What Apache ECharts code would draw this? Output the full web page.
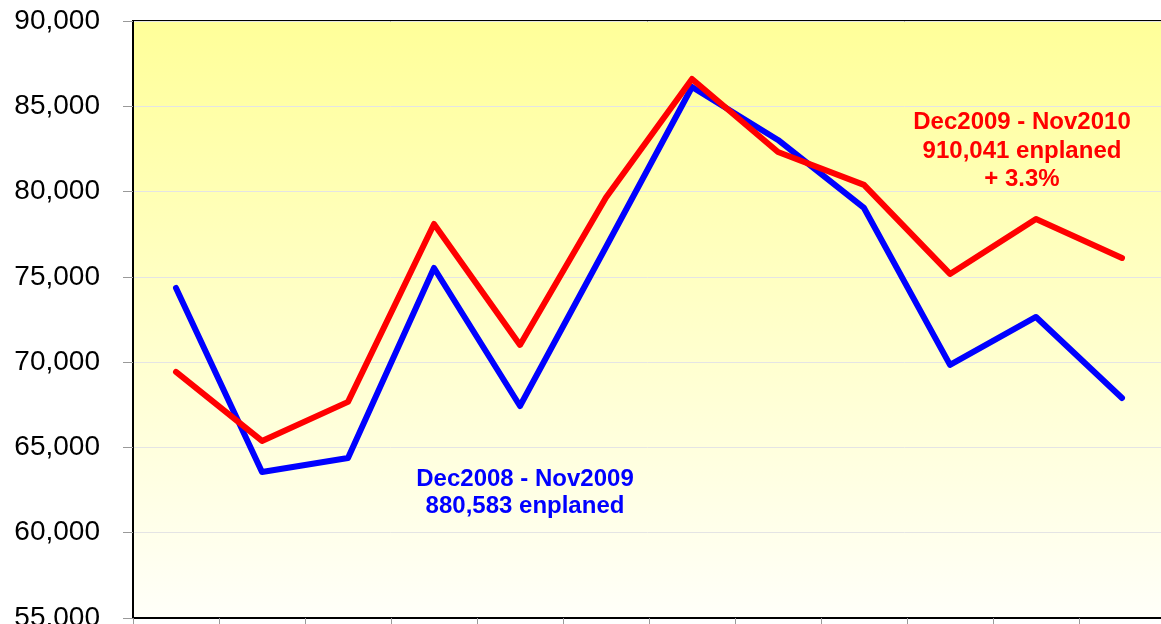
<!DOCTYPE html>
<html>
<head>
<meta charset="utf-8">
<script src="https://cdn.jsdelivr.net/npm/echarts@6/dist/echarts.min.js"></script>
<style>html,body{margin:0;padding:0;background:#fff;}#c{width:1161px;height:624px;}</style>
</head>
<body>
<div id="c"></div>
<script>
var categories = ['Dec','Jan','Feb','Mar','Apr','May','Jun','Jul','Aug','Sep','Oct','Nov'];
var series2009 = [74350, 63560, 64385, 75520, 67430, 76750, 86130, 83025, 79040, 69840, 72650, 67900];
var series2010 = [69430, 65380, 67670, 78100, 71010, 79650, 86600, 82320, 80390, 75170, 78390, 76110];
var yTicks = {min: 55000, max: 90000, interval: 5000};
var label2009 = ['Dec2008 - Nov2009', '880,583 enplaned'];
var label2010 = ['Dec2009 - Nov2010', '910,041 enplaned', '+ 3.3%'];

var chart = echarts.init(document.getElementById('c'));
chart.setOption({
  animation: false,
  grid: {
    left: 133, top: 21, width: 1032, height: 597,
    containLabel: false,
    outerBoundsMode: 'none',
    show: true,
    borderColor: '#000', borderWidth: 2,
    backgroundColor: new echarts.graphic.LinearGradient(0, 0, 0, 1, [
      {offset: 0, color: '#FFFF99'},
      {offset: 1, color: '#FFFFF9'}
    ])
  },
  xAxis: {
    type: 'category',
    data: categories,
    boundaryGap: true,
    axisLine: {lineStyle: {color: '#000', width: 2}},
    axisTick: {show: true, length: 6, lineStyle: {color: '#999'}},
    axisLabel: {show: false},
    splitLine: {show: false}
  },
  yAxis: {
    type: 'value',
    min: yTicks.min, max: yTicks.max, interval: yTicks.interval,
    axisLine: {show: true, lineStyle: {color: '#000', width: 2}},
    axisTick: {show: true, length: 10, lineStyle: {color: '#999'}},
    axisLabel: {
      margin: 33,
      fontFamily: 'Liberation Sans, Arial, sans-serif',
      fontSize: 28, color: '#000',
      formatter: function (v) { return v.toLocaleString('en-US'); }
    },
    splitLine: {lineStyle: {color: '#e4e4e4', width: 1}}
  },
  series: [
    {
      type: 'line', data: series2009, symbol: 'none',
      lineStyle: {color: '#0000FF', width: 6, cap: 'round', join: 'round'}, z: 2
    },
    {
      type: 'line', data: series2010, symbol: 'none',
      lineStyle: {color: '#FF0000', width: 6, cap: 'round', join: 'round'}, z: 3
    }
  ],
  graphic: [
    {
      type: 'text', x: 525, y: 465.5, z: 10,
      style: {
        text: label2009.join('\n'), fill: '#0000FF',
        font: 'bold 24px "Liberation Sans", Arial, sans-serif',
        align: 'center', verticalAlign: 'top', lineHeight: 27
      }
    },
    {
      type: 'text', x: 1022, y: 108.5, z: 10,
      style: {
        text: label2010.join('\n'), fill: '#FF0000',
        font: 'bold 24px "Liberation Sans", Arial, sans-serif',
        align: 'center', verticalAlign: 'top', lineHeight: 28.5
      }
    }
  ]
});
</script>
</body>
</html>
